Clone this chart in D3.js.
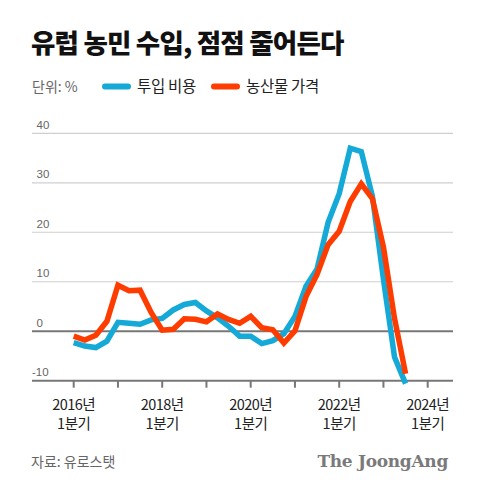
<!DOCTYPE html>
<html><head><meta charset="utf-8">
<script src="https://cdn.jsdelivr.net/npm/d3@7"></script>
<style>
html,body{margin:0;padding:0;background:#fff;}
svg{display:block;font-family:"Noto Sans CJK KR","Noto Sans",sans-serif;}
</style></head>
<body>
<svg id="chart" width="480" height="493"></svg>
<script>
// quarters 2016Q1 .. 2023Q3
const quarters = d3.range(31).map(i => 2016 + i / 4);
const inputCost = [-2.3, -3.0, -3.3, -2.0, 1.8, 1.6, 1.4, 2.3, 2.6, 4.3, 5.4, 5.8, 4.1, 2.7, 1.0, -1.0,
  -1.0, -2.5, -1.9, -0.5, 3.0, 9.1, 12.6, 22.0, 27.8, 37.0, 36.3, 27.3, 10.5, -5.2, -10.6];
const outputPrice = [-1.0, -1.8, -0.8, 2.0, 9.3, 8.2, 8.3, 3.8, 0.2, 0.4, 2.5, 2.4, 1.9, 3.5, 2.4, 1.6,
  3.0, 0.7, 0.3, -2.4, 0.1, 7.0, 11.5, 17.5, 20.2, 26.2, 29.8, 26.8, 17.0, 2.6, -8.6];
const yTicks = [40, 30, 20, 10, 0, -10];
const xTickYears = [2016, 2017, 2018, 2019, 2020, 2021, 2022, 2023, 2024];
const xLabelYears = [2016, 2018, 2020, 2022, 2024];
const seriesNames = ["투입 비용", "농산물 가격"];
const colors = ["#14a9d6", "#ff3c00"];

const svg = d3.select("#chart");
const x = d3.scaleLinear().domain([2016, 2024]).range([73.7, 427.7]);
const y = d3.scaleLinear().domain([-10, 40]).range([380.7, 133.3]);
const left = 32, right = 453;

// title
svg.append("text").attr("x", 31).attr("y", 53).attr("font-size", 26.5).attr("font-weight", 900)
  .attr("letter-spacing", -0.8).attr("fill", "#111").text("유럽 농민 수입, 점점 줄어든다");

// legend
svg.append("text").attr("x", 32).attr("y", 92).attr("font-size", 14).attr("fill", "#666").text("단위: %");
const legX = [102, 211];
seriesNames.forEach((n, i) => {
  svg.append("line").attr("x1", legX[i] + 3).attr("x2", legX[i] + 26).attr("y1", 86.5).attr("y2", 86.5)
    .attr("stroke", colors[i]).attr("stroke-width", 6).attr("stroke-linecap", "round");
  svg.append("text").attr("x", legX[i] + 35).attr("y", 92).attr("font-size", 15.5).attr("fill", "#222")
    .attr("letter-spacing", -0.3).text(n);
});

// grid
yTicks.forEach(t => {
  const isZero = t === 0, isBase = t === -10;
  svg.append("line").attr("x1", left).attr("x2", right).attr("y1", y(t)).attr("y2", y(t))
    .attr("stroke", (isZero || isBase) ? "#777" : "#cfcfcf").attr("stroke-width", (isZero || isBase) ? 2 : 1.2);
  svg.append("text").attr("x", t < 0 ? 32 : 36.5).attr("y", y(t) - 4.5).attr("font-size", 11.5)
    .attr("fill", "#666").attr("font-family", "Helvetica, 'Liberation Sans', Arial, sans-serif")
    .text(t < 0 ? "-" + Math.abs(t) : t);
});

// x axis ticks
xTickYears.forEach(yr => {
  svg.append("line").attr("x1", x(yr)).attr("x2", x(yr)).attr("y1", y(-10)).attr("y2", y(-10) + 7)
    .attr("stroke", "#777").attr("stroke-width", 2);
});
xLabelYears.forEach(yr => {
  svg.append("text").attr("text-anchor", "middle").attr("font-size", 14.5).attr("fill", "#222")
    .attr("letter-spacing", -0.5).attr("x", x(yr)).attr("y", 410).text(yr + "년");
  svg.append("text").attr("text-anchor", "middle").attr("font-size", 14.5).attr("fill", "#222")
    .attr("letter-spacing", -0.5).attr("x", x(yr)).attr("y", 429).text("1분기");
});

// lines
const line = d3.line().x((d, i) => x(quarters[i])).y(d => y(d));
[inputCost, outputPrice].forEach((s, i) => {
  svg.append("path").attr("d", line(s)).attr("fill", "none").attr("stroke", colors[i])
    .attr("stroke-width", 5.5).attr("stroke-linejoin", "miter").attr("stroke-miterlimit", 3);
});

// footer
svg.append("text").attr("x", 31).attr("y", 467).attr("font-size", 14).attr("fill", "#666").text("자료: 유로스탯");
svg.append("text").attr("x", 448).attr("y", 467).attr("text-anchor", "end").attr("font-size", 17)
  .attr("font-weight", "bold").attr("fill", "#7a7a7a").attr("letter-spacing", -0.3)
  .attr("font-family", "'DejaVu Serif','Liberation Serif',serif").text("The JoongAng");
</script>
</body></html>
